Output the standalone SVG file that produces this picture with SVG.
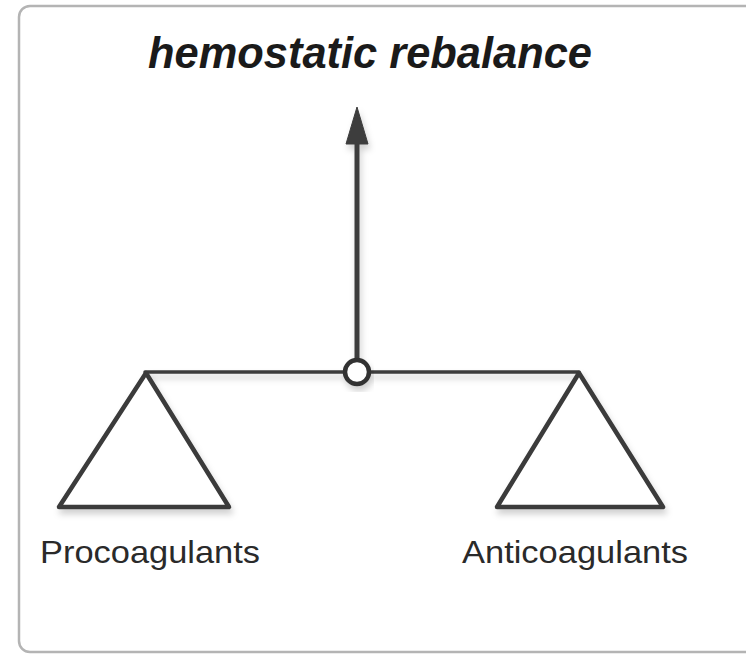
<svg xmlns="http://www.w3.org/2000/svg" width="746" height="655" viewBox="0 0 746 655">
<style>
.frame{fill:#fff;stroke:#b4b4b4;stroke-width:2.5}
.ln{stroke:#3c3c3c;fill:none;stroke-linecap:round;stroke-linejoin:round}
.tri{fill:#fff;stroke:#3a3a3a;stroke-width:4.5;stroke-linejoin:round}
.lbl{font-family:"Liberation Sans",Arial,sans-serif;font-size:32px;fill:#2a2a2a}
.title{font-family:"Liberation Sans",Arial,sans-serif;font-size:45px;font-weight:bold;font-style:italic;fill:#1a1a1a}
</style>
<defs>
<filter id="sh" x="-20%" y="-20%" width="140%" height="150%">
<feDropShadow dx="2" dy="5" stdDeviation="3" flood-color="#000" flood-opacity="0.18"/>
</filter>
</defs>
<rect class="frame" x="19" y="6" width="760" height="646" rx="11"/>
<text class="title" x="370" y="68" text-anchor="middle" textLength="444" lengthAdjust="spacingAndGlyphs">hemostatic rebalance</text>
<g id="connectors" filter="url(#sh)">
<line class="ln" x1="357" y1="358" x2="357" y2="140" stroke-width="5"/>
<polygon points="357,107 368,144 346,144" fill="#3c3c3c" stroke="#3c3c3c" stroke-width="1" stroke-linejoin="round"/>
<line class="ln" x1="145" y1="372" x2="345" y2="372" stroke-width="3.5"/>
<line class="ln" x1="369" y1="372" x2="579" y2="372" stroke-width="3.5"/>
</g>
<g id="pivot" filter="url(#sh)">
<circle cx="357" cy="372" r="12" fill="#fff" stroke="#333" stroke-width="4.5"/>
</g>
<g id="left-pan" filter="url(#sh)">
<polygon class="tri" points="146,373 229,507 59,507"/>
</g>
<g id="right-pan" filter="url(#sh)">
<polygon class="tri" points="579,373 663,507 497,507"/>
</g>
<g id="procoagulants">
<text class="lbl" x="40" y="563" textLength="220" lengthAdjust="spacingAndGlyphs">Procoagulants</text>
</g>
<g id="anticoagulants">
<text class="lbl" x="462" y="563" textLength="226" lengthAdjust="spacingAndGlyphs">Anticoagulants</text>
</g>
</svg>
